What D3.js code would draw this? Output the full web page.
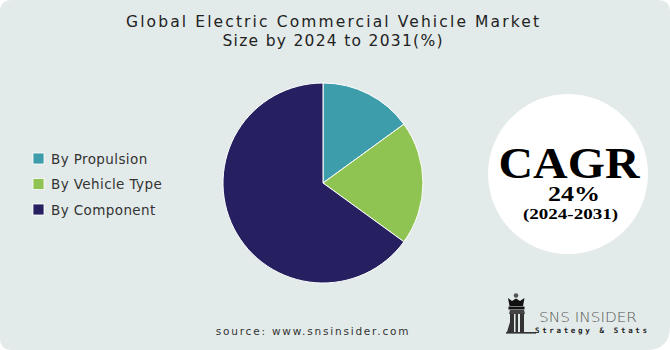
<!DOCTYPE html>
<html>
<head>
<meta charset="utf-8">
<script src="https://cdn.jsdelivr.net/npm/d3@7"></script>
<style>
  html, body { margin: 0; padding: 0; background: #ffffff; }
  svg { display: block; }
</style>
</head>
<body>
<svg id="chart" width="670" height="350"></svg>
<script>
// Market share by segment, 2024–2031 (%)
const categories = ["By Propulsion", "By Vehicle Type", "By Component"];
const shares = [15, 20, 65];
const colors = ["#3d9dab", "#8fc453", "#262060"];

const titleLines = ["Global Electric Commercial Vehicle Market", "Size by 2024 to 2031(%)"];
const cagrValue = "24%";
const cagrPeriod = "(2024-2031)";
const sourceText = "source: www.snsinsider.com";

const W = 670, H = 350;
const svg = d3.select("#chart");

// Panel background with rounded corners (bottom-right a bit wider)
const r1 = 12, r2 = 24;
const panel = d3.path();
panel.moveTo(r1, 0);
panel.lineTo(W - r1, 0);
panel.quadraticCurveTo(W, 0, W, r1);
panel.lineTo(W, H - r2);
panel.quadraticCurveTo(W, H, W - r2, H);
panel.lineTo(r1, H);
panel.quadraticCurveTo(0, H, 0, H - r1);
panel.lineTo(0, r1);
panel.quadraticCurveTo(0, 0, r1, 0);
panel.closePath();
svg.append("path").attr("d", panel.toString()).attr("fill", "#e3ebea");

// Title (two centred lines, stretched to the title block width)
const titleWidths = [413, 220];
const title = svg.append("text")
  .attr("text-anchor", "middle")
  .attr("font-family", "'DejaVu Sans', sans-serif")
  .attr("font-size", 15.5)
  .attr("fill", "#222");
title.selectAll("tspan").data(titleLines).join("tspan")
  .attr("x", 332.5)
  .attr("y", (d, i) => 27 + i * 19)
  .attr("textLength", (d, i) => titleWidths[i])
  .attr("lengthAdjust", "spacing")
  .text(d => d);

// Pie
const cx = 323, cy = 183, radius = 100;
const pie = d3.pie().sort(null).value(d => d)(shares);
const arc = d3.arc().innerRadius(0).outerRadius(radius);
const color = d3.scaleOrdinal().domain(categories).range(colors);

svg.append("g")
  .attr("transform", `translate(${cx},${cy})`)
  .selectAll("path")
  .data(pie)
  .join("path")
  .attr("d", arc)
  .attr("fill", (d, i) => color(categories[i]))
  .attr("stroke", "#ffffff")
  .attr("stroke-width", 1);

// Legend
const legend = svg.append("g").attr("transform", "translate(33,153)");
const items = legend.selectAll("g").data(categories).join("g")
  .attr("transform", (d, i) => `translate(0,${i * 25.5})`);
items.append("rect")
  .attr("width", 11).attr("height", 11)
  .attr("fill", d => color(d))
  .attr("stroke", "#ffffff").attr("stroke-width", 0.8);
items.append("text")
  .attr("x", 18).attr("y", 10.5)
  .attr("font-family", "'DejaVu Sans', sans-serif")
  .attr("font-size", 13.5)
  .attr("letter-spacing", 0.4)
  .attr("fill", "#333")
  .text(d => d);

// CAGR badge
const bx = 568, by = 174;
svg.append("circle").attr("cx", bx).attr("cy", by).attr("r", 80).attr("fill", "#ffffff");
svg.append("text")
  .attr("x", bx + 1).attr("y", 178)
  .attr("text-anchor", "middle")
  .attr("font-family", "'Liberation Serif', 'DejaVu Serif', serif")
  .attr("font-weight", "bold")
  .attr("font-size", 44)
  .attr("textLength", 141)
  .attr("lengthAdjust", "spacingAndGlyphs")
  .attr("fill", "#000")
  .text("CAGR");
svg.append("text")
  .attr("x", bx + 6).attr("y", 201)
  .attr("text-anchor", "middle")
  .attr("font-family", "'Liberation Serif', 'DejaVu Serif', serif")
  .attr("font-weight", "bold")
  .attr("font-size", 21)
  .attr("textLength", 52)
  .attr("lengthAdjust", "spacingAndGlyphs")
  .attr("fill", "#000")
  .text(cagrValue);
svg.append("text")
  .attr("x", bx + 2.5).attr("y", 218.5)
  .attr("text-anchor", "middle")
  .attr("font-family", "'Liberation Serif', 'DejaVu Serif', serif")
  .attr("font-weight", "bold")
  .attr("font-size", 14.5)
  .attr("textLength", 95)
  .attr("lengthAdjust", "spacingAndGlyphs")
  .attr("fill", "#000")
  .text(cagrPeriod);

// Source line
svg.append("text")
  .attr("x", 313).attr("y", 335)
  .attr("text-anchor", "middle")
  .attr("font-family", "'DejaVu Sans', sans-serif")
  .attr("font-size", 10.5)
  .attr("letter-spacing", 1.8)
  .attr("fill", "#333")
  .text(sourceText);

// Logo
const logo = svg.append("g");
logo.append("circle").attr("cx", 516).attr("cy", 295.5).attr("r", 2.3).attr("fill", "#555");
logo.append("path")
  .attr("d", "M508,298 L512,301 L516,298.5 L520,301 L524.5,298 L523,306 L509.5,306 Z")
  .attr("fill", "#111");
logo.append("rect").attr("x", 508.5).attr("y", 306.5).attr("width", 16).attr("height", 3).attr("fill", "#111");
logo.append("path")
  .attr("d", "M510,310 L524,310 L525,314 L509,314 Z")
  .attr("fill", "#444");
// columns
[[510, 4], [515.5, 2.5], [520, 4]].forEach(([x, w]) => {
  logo.append("rect").attr("x", x).attr("y", 314).attr("width", w).attr("height", 18).attr("fill", "#333");
});
logo.append("path")
  .attr("d", "M507,332 L510,322 L510,332 Z").attr("fill", "#333");
logo.append("rect").attr("x", 506).attr("y", 332).attr("width", 30).attr("height", 1.6).attr("fill", "#333");
logo.append("text")
  .attr("x", 539).attr("y", 322)
  .attr("font-family", "'DejaVu Sans', sans-serif")
  .attr("font-weight", "300")
  .attr("font-size", 14)
  .attr("textLength", 98)
  .attr("lengthAdjust", "spacingAndGlyphs")
  .attr("fill", "#555")
  .text("SNS INSIDER");
logo.append("text")
  .attr("x", 535).attr("y", 333)
  .attr("font-family", "'DejaVu Sans Mono', monospace")
  .attr("font-weight", "bold")
  .attr("font-size", 7.5)
  .attr("textLength", 112)
  .attr("lengthAdjust", "spacing")
  .attr("fill", "#222")
  .text("Strategy & Stats");
</script>
</body>
</html>
